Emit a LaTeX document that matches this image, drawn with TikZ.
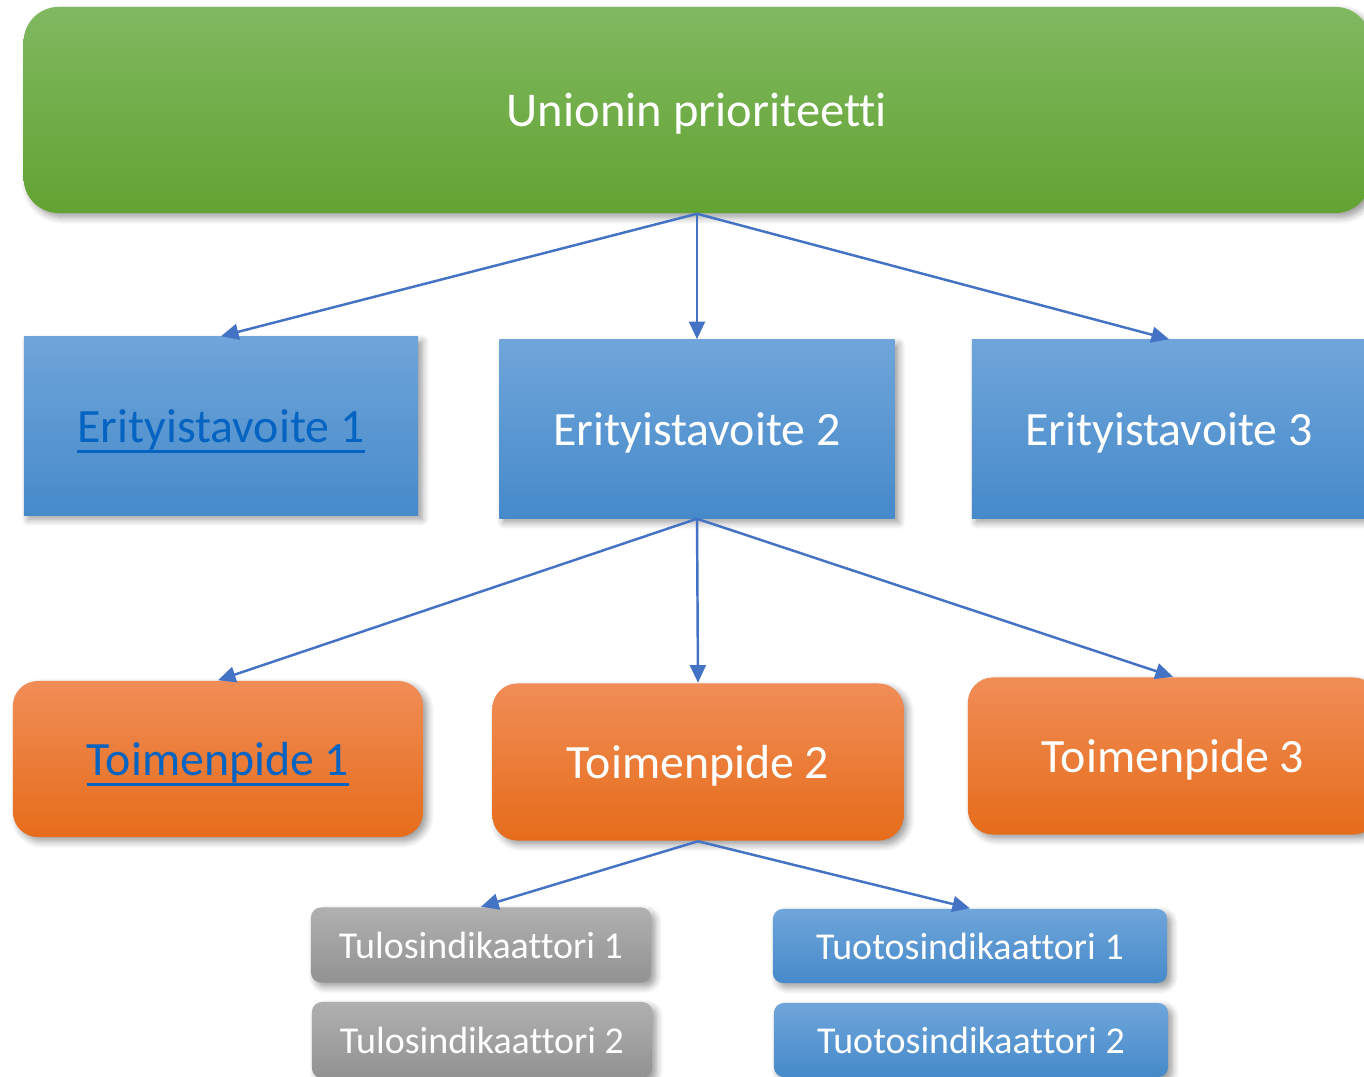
\documentclass[tikz,border=0pt]{standalone}
\usepackage{fontspec}
\setmainfont{Carlito}[Ligatures=NoCommon]
\usetikzlibrary{arrows.meta,shadows.blur}

\definecolor{linkblue}{HTML}{0563C1}
\definecolor{arrowblue}{HTML}{4472C4}
\newcommand{\linktext}[1]{\textcolor{linkblue}{\setbox0\hbox{#1}\rlap{\rule[-3pt]{\wd0}{0.9pt}}\box0}}

\tikzset{
    box/.style={text=white, inner sep=0pt, align=center, text depth=0pt,
        blur shadow={shadow xshift=1.2pt, shadow yshift=-1.2pt, shadow blur steps=6, shadow opacity=40}},
    greenbox/.style={box, top color={rgb,255:red,128;green,184;blue,96}, bottom color={rgb,255:red,98;green,163;blue,50},
        rounded corners=0.35cm, font=\fontsize{13.8}{17}\selectfont},
    bluebox/.style={box, top color={rgb,255:red,111;green,165;blue,218}, bottom color={rgb,255:red,70;green,138;blue,202}},
    orangebox/.style={box, top color={rgb,255:red,240;green,141;blue,87}, bottom color={rgb,255:red,230;green,108;blue,26},
        rounded corners=0.25cm},
    greybox/.style={box, top color={rgb,255:red,176;green,176;blue,176}, bottom color={rgb,255:red,146;green,146;blue,146},
        rounded corners=0.1cm},
    link/.style={-{Triangle[length=5pt,width=4.5pt]}, arrowblue, line width=0.7pt}
}

\begin{document}
\begin{tikzpicture}[x=0.01cm,y=-0.01cm]
    \useasboundingbox (0,0) rectangle (1364,1076);

    \node[greenbox, minimum width=13.46cm, minimum height=2.06cm] (prio) at (697,110) {Unionin prioriteetti};

    \node[bluebox, minimum width=3.94cm, minimum height=1.78cm, font=\fontsize{13.6}{16}\selectfont] (eri1) at (221,426) {\linktext{Erityistavoite 1}};
    \node[bluebox, minimum width=3.95cm, minimum height=1.78cm, font=\fontsize{13.6}{16}\selectfont] (eri2) at (697,429) {Erityistavoite 2};
    \node[bluebox, minimum width=3.94cm, minimum height=1.78cm, font=\fontsize{13.6}{16}\selectfont] (eri3) at (1169,429) {Erityistavoite 3};

    \node[orangebox, minimum width=4.10cm, minimum height=1.56cm, font=\fontsize{13.6}{16}\selectfont] (toi1) at (218,759) {\linktext{Toimenpide 1}};
    \node[orangebox, minimum width=4.11cm, minimum height=1.57cm, font=\fontsize{13.6}{16}\selectfont] (toi2) at (698,762) {Toimenpide 2};
    \node[orangebox, minimum width=4.10cm, minimum height=1.57cm, font=\fontsize{13.6}{16}\selectfont] (toi3) at (1173,756) {Toimenpide 3};

    \node[greybox, minimum width=3.40cm, minimum height=0.75cm, font=\fontsize{10.8}{13}\selectfont] (tulos1) at (481,945) {Tulosindikaattori 1};
    \node[greybox, minimum width=3.40cm, minimum height=0.76cm, font=\fontsize{10.8}{13}\selectfont] (tulos2) at (482,1040) {Tulosindikaattori 2};
    \node[bluebox, rounded corners=0.1cm, minimum width=3.94cm, minimum height=0.74cm, font=\fontsize{10.8}{13}\selectfont] (tuotos1) at (970,946) {Tuotosindikaattori 1};
    \node[bluebox, rounded corners=0.1cm, minimum width=3.94cm, minimum height=0.74cm, font=\fontsize{10.8}{13}\selectfont] (tuotos2) at (971,1040) {Tuotosindikaattori 2};

    % priority to objectives
    \foreach \t in {eri1,eri2,eri3}
        \draw[link] (prio.south) -- (\t.north);
    % objective 2 to actions
    \foreach \t in {toi1,toi2,toi3}
        \draw[link] (eri2.south) -- (\t.north);
    % action 2 to indicators
    \foreach \t in {tulos1,tuotos1}
        \draw[link] (toi2.south) -- (\t.north);
\end{tikzpicture}
\end{document}
